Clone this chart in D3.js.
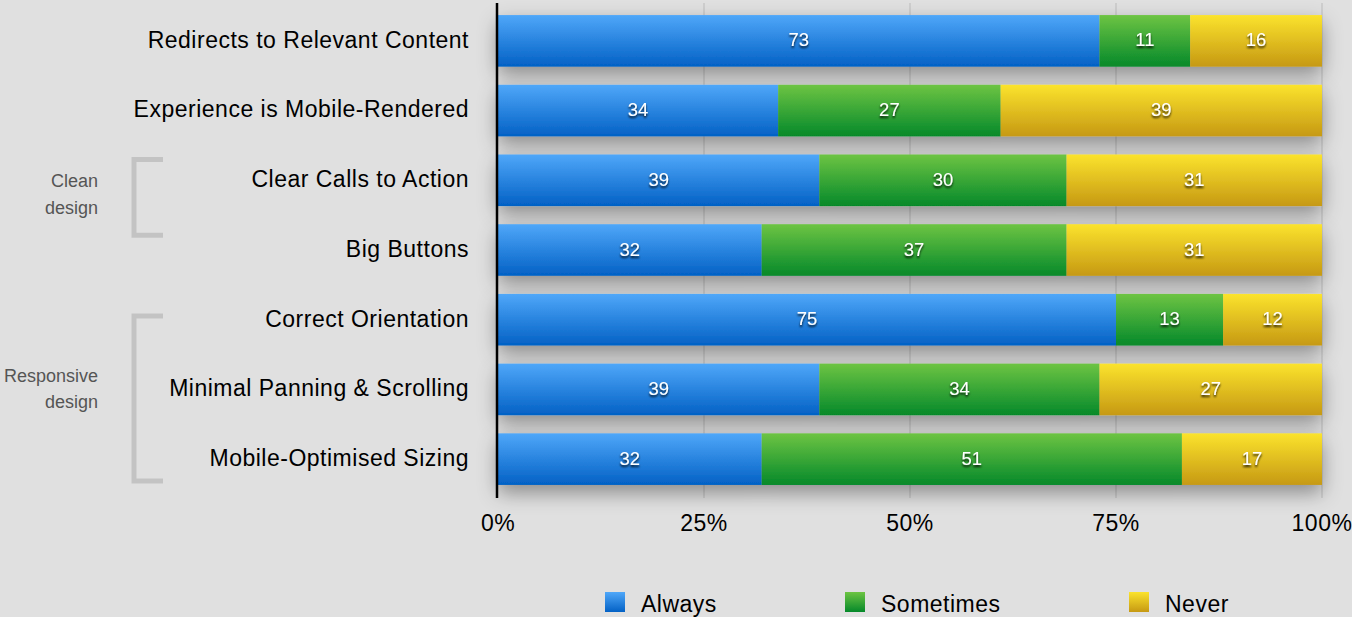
<!DOCTYPE html>
<html>
<head>
<meta charset="utf-8">
<title>Mobile experience</title>
<style>
  body { margin: 0; background: #e0e0e0; }
  svg { display: block; font-family: "Liberation Sans", Arial, sans-serif; }
</style>
</head>
<body>
<div id="chart"></div>
<script src="https://cdn.jsdelivr.net/npm/d3@7"></script>
<script>

var categories = [
  'Redirects to Relevant Content',
  'Experience is Mobile-Rendered',
  'Clear Calls to Action',
  'Big Buttons',
  'Correct Orientation',
  'Minimal Panning & Scrolling',
  'Mobile-Optimised Sizing'
];
var always    = [73, 34, 39, 32, 75, 39, 32];
var sometimes = [11, 27, 30, 37, 13, 34, 51];
var never     = [16, 39, 31, 31, 12, 27, 17];
var seriesNames = ['Always', 'Sometimes', 'Never'];
var tickValues = [0, 25, 50, 75, 100];
var groupLabels = [['Clean', 'design'], ['Responsive', 'design']];

var width = 1352, height = 617;
var plotLeft = 498, plotRight = 1322, plotTop = 6, plotBottom = 494;

var svg = d3.select('#chart').append('svg')
  .attr('width', width).attr('height', height);

svg.append('rect').attr('width', width).attr('height', height).attr('fill', '#e0e0e0');

var defs = svg.append('defs');
var colours = [
  ['#4fa7f9', '#0361c5'],
  ['#6dc443', '#05892a'],
  ['#fbe32d', '#c69913']
];
colours.forEach(function(c, i){
  var g = defs.append('linearGradient').attr('id', 'grad' + i)
    .attr('x1', 0).attr('y1', 0).attr('x2', 0).attr('y2', 1);
  g.append('stop').attr('offset', '0%').attr('stop-color', c[0]);
  g.append('stop').attr('offset', '100%').attr('stop-color', c[1]);
});
var shadow = defs.append('filter').attr('id', 'shadow')
  .attr('x', '-10%').attr('y', '-50%').attr('width', '120%').attr('height', '250%');
shadow.append('feDropShadow').attr('dx', 0).attr('dy', 8).attr('stdDeviation', 10)
  .attr('flood-color', '#000').attr('flood-opacity', 0.38);
var textShadow = defs.append('filter').attr('id', 'tshadow');
textShadow.append('feDropShadow').attr('dx', 0).attr('dy', 2).attr('stdDeviation', 1.3)
  .attr('flood-color', '#000').attr('flood-opacity', 0.85);

var x = d3.scaleLinear().domain([0, 100]).range([plotLeft, plotRight]);
var y = d3.scaleBand().domain(categories).range([plotTop, plotBottom]).paddingInner(0.26).paddingOuter(0.13);
var bw = y.bandwidth();

// gridlines
svg.selectAll('.grid')
  .data(tickValues.slice(1))
  .enter()
  .append('line')
  .attr('x1', function(d){ return x(d); })
  .attr('x2', function(d){ return x(d); })
  .attr('y1', 3).attr('y2', 498)
  .attr('stroke', '#bcbcbc').attr('stroke-width', 1);

var rows = categories.map(function(c, i){
  return { cat: c, vals: [always[i], sometimes[i], never[i]] };
});

var rowG = svg.selectAll('.row')
  .data(rows)
  .enter()
  .append('g')
  .attr('class', 'row');

rowG.append('g').attr('filter', 'url(#shadow)')
  .each(function(d){
    var g = d3.select(this);
    var start = 0;
    d.vals.forEach(function(v, i){
      g.append('rect')
        .attr('x', x(start))
        .attr('y', y(d.cat))
        .attr('width', x(start + v) - x(start))
        .attr('height', bw)
        .attr('fill', 'url(#grad' + i + ')');
      start += v;
    });
  });

rowG.each(function(d){
  var g = d3.select(this);
  var start = 0;
  d.vals.forEach(function(v){
    g.append('text')
      .attr('x', x(start + v / 2))
      .attr('y', y(d.cat) + bw / 2)
      .attr('dy', '0.3em')
      .attr('text-anchor', 'middle')
      .attr('font-size', 18.5)
      .attr('fill', '#fff')
      .attr('filter', 'url(#tshadow)')
      .text(v);
    start += v;
  });
});

// category labels
svg.selectAll('.cat')
  .data(categories)
  .enter()
  .append('text')
  .attr('x', 469)
  .attr('y', function(d){ return y(d) + bw / 2; })
  .attr('dy', '0.3em')
  .attr('text-anchor', 'end')
  .attr('font-size', 23)
  .attr('letter-spacing', 0.5)
  .attr('fill', '#000')
  .text(function(d){ return d; });

// axis line
svg.append('line')
  .attr('x1', plotLeft - 1).attr('x2', plotLeft - 1)
  .attr('y1', 3).attr('y2', 498)
  .attr('stroke', '#000').attr('stroke-width', 2.5);

// tick labels
svg.selectAll('.tick')
  .data(tickValues)
  .enter()
  .append('text')
  .attr('x', function(d){ return x(d); })
  .attr('y', 531)
  .attr('text-anchor', 'middle')
  .attr('font-size', 23)
  .attr('letter-spacing', 0.5)
  .attr('fill', '#000')
  .text(function(d){ return d + '%'; });

// group brackets
var brackets = [
  { y0: y(categories[2]) + 5,  y1: y(categories[3]) + 11,      text: y(categories[2]) + 33 },
  { y0: y(categories[4]) + 22, y1: y(categories[6]) + bw - 4,  text: y(categories[4]) + 88 }
];
brackets.forEach(function(b, k){
  svg.append('path')
    .attr('d', 'M163,' + b.y0 + 'H134V' + b.y1 + 'H163')
    .attr('fill', 'none')
    .attr('stroke', '#c3c3c3')
    .attr('stroke-width', 5);
  groupLabels[k].forEach(function(t, i){
    svg.append('text')
      .attr('x', 98)
      .attr('y', b.text + i * 26.5)
      .attr('text-anchor', 'end')
      .attr('font-size', 18)
      .attr('fill', '#555')
      .text(t);
  });
});

// legend
var legendX = [605, 845, 1129];
var legend = svg.selectAll('.legend')
  .data(seriesNames)
  .enter()
  .append('g')
  .attr('transform', function(d, i){ return 'translate(' + legendX[i] + ',592)'; });
legend.append('rect')
  .attr('width', 20).attr('height', 20)
  .attr('fill', function(d, i){ return 'url(#grad' + i + ')'; });
legend.append('text')
  .attr('x', 36).attr('y', 20)
  .attr('font-size', 23)
  .attr('letter-spacing', 0.5)
  .attr('fill', '#000')
  .text(function(d){ return d; });

</script>
</body>
</html>
